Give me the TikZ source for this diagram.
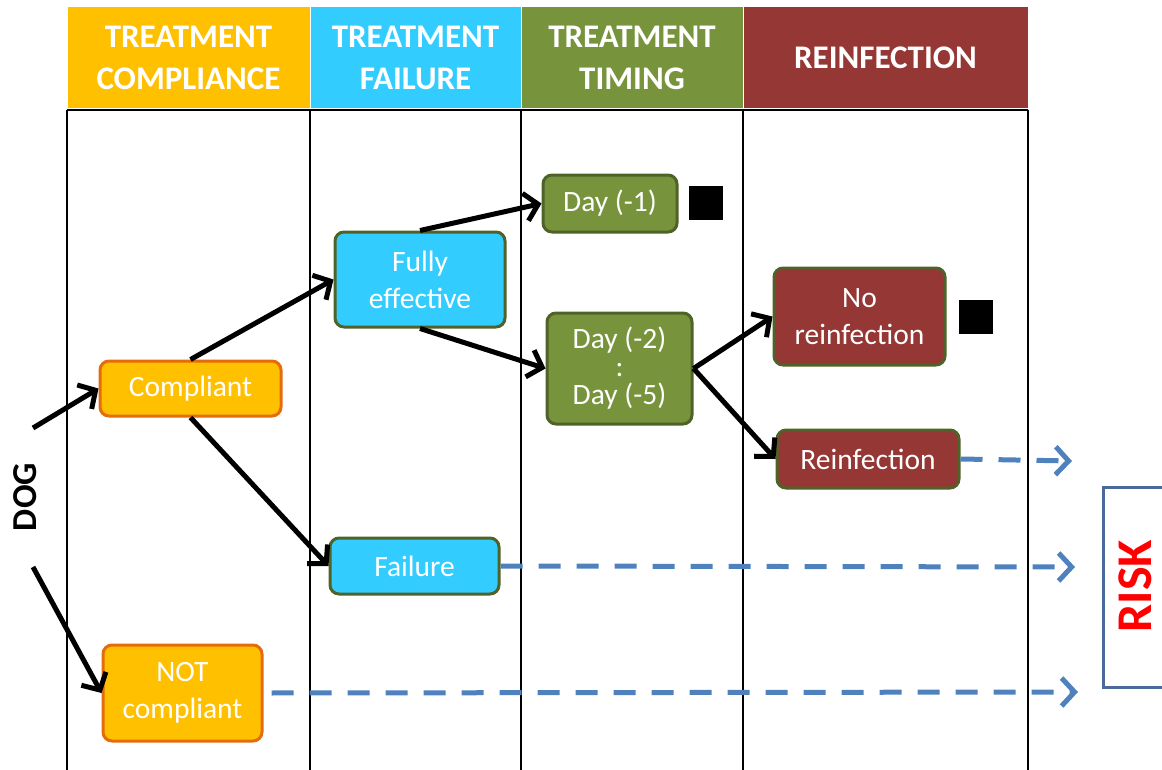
\documentclass[tikz,border=0pt]{standalone}
\usepackage{fontspec}
\setmainfont{Carlito}
\usetikzlibrary{arrows.meta}
\definecolor{hdorange}{HTML}{FFC000}
\definecolor{hdcyan}{HTML}{33CCFF}
\definecolor{hdgreen}{HTML}{77933C}
\definecolor{hdred}{HTML}{953735}
\definecolor{bdorange}{HTML}{E46C0A}
\definecolor{bdgreen}{HTML}{4F6228}
\definecolor{dashblue}{HTML}{4F81BD}
\definecolor{riskframe}{HTML}{4A6A9A}
\tikzset{
  hdcell/.style={minimum height=101pt, inner sep=0pt, align=center, text=white,
    font=\fontsize{33}{42}\selectfont\bfseries},
  box/.style={rounded corners=9pt, line width=3pt, align=center, text=white,
    inner sep=0pt, font=\fontsize{29.5}{37}\selectfont},
  obox/.style={box, fill=hdorange, draw=bdorange},
  cbox/.style={box, fill=hdcyan, draw=bdgreen},
  gbox/.style={box, fill=hdgreen, draw=bdgreen},
  rbox/.style={box, fill=hdred, draw=bdgreen},
  tline/.style={line width=2pt, black},
  flow/.style={line width=5pt, -{Straight Barb[length=13pt,width=28pt]}},
  riskflow/.style={line width=5pt, dashblue, dash pattern=on 22pt off 16pt,
    -{Straight Barb[length=13pt,width=28pt]}}
}
\begin{document}
\begin{tikzpicture}[x=1pt,y=-1pt]
\useasboundingbox (0,0) rectangle (1162,769);
% header cells
\node[hdcell, fill=hdorange, minimum width=242pt] (h1) at (188.5,57.5) {TREATMENT\\COMPLIANCE};
\node[hdcell, fill=hdcyan, minimum width=210pt] (h2) at (415.5,57.5) {TREATMENT\\FAILURE};
\node[hdcell, fill=hdgreen, minimum width=221pt] (h3) at (632,57.5) {TREATMENT\\TIMING};
\node[hdcell, fill=hdred, minimum width=284pt] (h4) at (885.5,57.5) {REINFECTION};
% table lines
\draw[tline] (67,110) -- (1028,110);
\draw[tline] (67,110) -- (67,770);
\draw[tline] (310,110) -- (310,770);
\draw[tline] (521,110) -- (521,770);
\draw[tline] (743,110) -- (743,770);
\draw[tline] (1028,110) -- (1028,770);
% boxes
\node[obox, minimum width=181pt, minimum height=55pt] (comp) at (190.5,388.5) {Compliant};
\node[obox, minimum width=159pt, minimum height=96pt] (notc) at (182.5,693) {NOT\\compliant};
\node[cbox, minimum width=170pt, minimum height=95pt] (full) at (420,279.5) {Fully\\effective};
\node[cbox, minimum width=169pt, minimum height=56pt] (fail) at (414.5,566) {Failure};
\node[gbox, minimum width=134pt, minimum height=57pt] (day1) at (610,203.5) {Day (-1)};
\node[gbox, minimum width=145pt, minimum height=111pt] (day25) at (619.5,368.5) {Day (-2)\\[-9pt]:\\[-9pt]Day (-5)};
\node[rbox, minimum width=171pt, minimum height=97pt] (nore) at (859.5,316.5) {No\\reinfection};
\node[rbox, minimum width=182pt, minimum height=58pt] (re) at (868,459) {Reinfection};
% black squares
\node[fill=black, minimum size=34pt, inner sep=0pt] (sq1) at (706,203) {};
\node[fill=black, minimum size=34pt, inner sep=0pt] (sq2) at (975.5,317) {};
% DOG and RISK
\node[rotate=90, inner sep=0pt, font=\fontsize{35}{40}\selectfont\bfseries] (dog) at (25,497) {DOG};
\draw[line width=3pt, riskframe] (1170,487) -- (1103,487) -- (1103,687) -- (1170,687);
\node[rotate=90, inner sep=0pt, text=red, font=\fontsize{50}{60}\selectfont\bfseries] (risk) at (1135,586) {RISK};
% coordinates
\coordinate (dogA) at (33,428);
\coordinate (dogB) at (33,567);
\coordinate (r1) at (1072,461);
\coordinate (r2) at (1075,567);
\coordinate (r3) at (1078,692);
% black flows
\draw[flow] (dogA) -- (comp.west);
\draw[flow] (dogB) -- (notc.west);
\draw[flow] (comp.north) -- (full.west);
\draw[flow] (comp.south) -- (fail.west);
\draw[flow] (full.north) -- (day1.west);
\draw[flow] (full.south) -- (day25.west);
\draw[flow] (day25.east) -- (nore.west);
\draw[flow] (day25.east) -- (re.west);
% dashed risk flows
\draw[riskflow] (re.east) -- (r1);
\draw[riskflow] (fail.east) -- (r2);
\draw[riskflow, shorten <=8pt] (notc.east) -- (r3);
\end{tikzpicture}
\end{document}
